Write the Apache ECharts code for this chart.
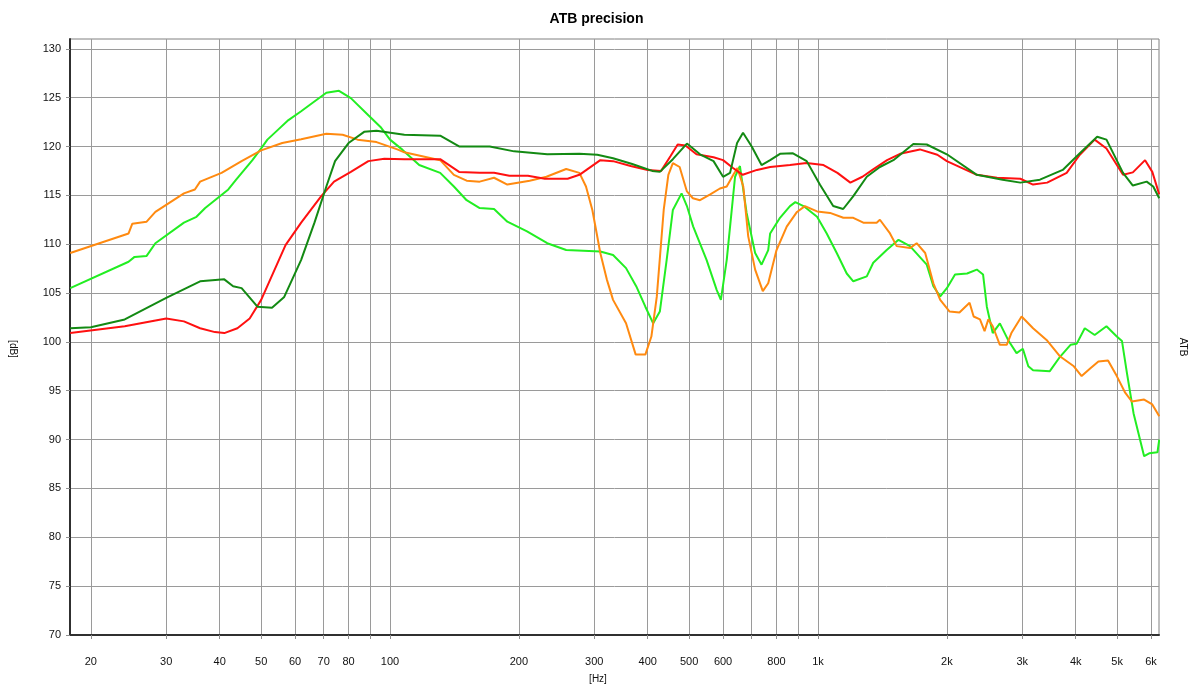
<!DOCTYPE html>
<html>
<head>
<meta charset="utf-8">
<script src="https://cdn.jsdelivr.net/npm/echarts@6/dist/echarts.min.js"></script>
<style>html,body{margin:0;padding:0;background:#fff}#c{width:1193px;height:686px}</style>
</head>
<body>
<div id="c"></div>
<script>
// Frequency grid lines (Hz) and labelled ticks
const gridHz = [20,30,40,50,60,70,80,90,100,200,300,400,500,600,700,800,900,1000,2000,3000,4000,5000,6000];
const labelHz = [20,30,40,50,60,70,80,100,200,300,400,500,600,800,1000,2000,3000,4000,5000,6000];
const labelText = ['20','30','40','50','60','70','80','100','200','300','400','500','600','800','1k','2k','3k','4k','5k','6k'];
const yTicks = [70,75,80,85,90,95,100,105,110,115,120,125,130];

// Red
const redHz = [17.9,24,30,33,36,39,41,44,47,50,57,62,69,74,81,89,97,108,131,145,162,175,190,210,230,260,277,310,332,365,400,430,452,470,490,520,570,600,633,667,720,773,860,940,1030,1110,1190,1270,1340,1450,1555,1730,1900,2000,2350,2620,2970,3180,3430,3810,4090,4430,4720,5160,5440,5810,6040,6270];
const redDb = [100.9,101.6,102.4,102.1,101.4,101.0,100.9,101.4,102.4,104.3,109.9,112.2,114.9,116.4,117.4,118.5,118.74,118.7,118.7,117.4,117.3,117.3,117.0,117.0,116.7,116.7,117.1,118.6,118.5,118.0,117.6,117.5,119.0,120.2,120.1,119.2,118.9,118.6,117.8,117.1,117.6,117.9,118.1,118.3,118.1,117.3,116.3,116.9,117.6,118.6,119.25,119.7,119.15,118.5,117.1,116.8,116.7,116.1,116.3,117.3,119.15,120.7,119.8,117.1,117.35,118.6,117.4,115.1];

// Dark green
const dgreenHz = [17.9,20,24,30,36,41,43,45,49,53,56.6,62,66.6,71,74.4,80,87,93,108,131,145,171,195,233,277,305,332,368,410,427,458,494,530,570,600,623,647,668,700,738,773,815,874,941,1010,1085,1145,1208,1300,1395,1500,1670,1795,2000,2350,2700,2970,3300,3730,4090,4490,4720,5160,5440,5860,6070,6270];
const dgreenDb = [101.4,101.5,102.3,104.5,106.2,106.4,105.7,105.5,103.6,103.5,104.6,108.4,112.2,115.9,118.5,120.35,121.5,121.6,121.2,121.1,120.0,120.0,119.5,119.2,119.25,119.15,118.8,118.2,117.5,117.4,118.7,120.3,119.2,118.5,116.9,117.3,120.35,121.4,120.0,118.1,118.6,119.25,119.3,118.5,116.1,113.9,113.6,114.9,116.9,117.9,118.6,120.25,120.2,119.2,117.1,116.6,116.3,116.6,117.6,119.3,121.0,120.7,117.3,116.0,116.4,115.9,114.7];

// Orange
const orangeHz = [17.9,24.5,25,27,28.3,33,35,36,40.4,45,50,56,62,71,77.5,84,93,104,108,131,141,151,162,175,188,212,232,258,277,287,297,310,321,332,356,375,395,408,420,436,447,458,475,494,510,530,560,590,612,634,648,669,687,713,743,765,800,845,893,932,995,1067,1146,1209,1276,1371,1395,1473,1527,1640,1700,1780,1860,1930,2030,2140,2260,2310,2390,2450,2500,2560,2660,2760,2830,2990,3180,3420,3680,3960,4130,4330,4520,4760,4990,5220,5410,5780,6040,6270];
const orangeDb = [109.1,111.1,112.1,112.3,113.3,115.2,115.6,116.4,117.3,118.5,119.6,120.35,120.75,121.3,121.2,120.7,120.45,119.7,119.4,118.6,117.1,116.5,116.4,116.8,116.1,116.5,116.9,117.7,117.3,115.9,113.5,109.1,106.4,104.3,101.9,98.7,98.7,100.55,104.6,113.5,117.1,118.3,117.9,115.4,114.7,114.5,115.1,115.7,115.9,117.1,117.8,115.9,110.8,107.4,105.2,106.0,109.4,111.8,113.3,113.9,113.35,113.2,112.7,112.7,112.2,112.2,112.5,111.1,109.8,109.6,110.1,109.1,106.0,104.3,103.1,103.0,104.0,102.6,102.3,101.1,102.3,101.6,99.7,99.7,100.9,102.6,101.4,100.2,98.5,97.5,96.5,97.3,98.0,98.1,96.5,94.8,93.9,94.1,93.6,92.4];

// Light green
const lgreenHz = [17.9,24.5,25.3,27,28.3,33,35.3,37,41.9,43.7,47.7,50,51.7,54.7,57.9,62,65.6,71,76,81,89,95,100,107,117,131,141,151,162,175,188,209,233,258,310,332,356,376,395,412,427,443,458,480,494,511,549,580,593,612,640,657,681,713,738,765,773,815,860,885,925,995,1048,1106,1167,1209,1300,1346,1447,1542,1640,1795,1860,1930,2000,2090,2230,2350,2430,2480,2560,2660,2780,2910,3010,3100,3180,3480,3680,3890,4020,4200,4430,4720,4990,5130,5270,5460,5780,5940,6210,6270];
const lgreenDb = [105.5,108.2,108.7,108.8,110.1,112.2,112.8,113.7,115.6,116.6,118.6,119.8,120.7,121.7,122.7,123.6,124.4,125.5,125.7,124.95,123.2,122.0,120.7,119.65,118.1,117.3,115.9,114.5,113.7,113.6,112.3,111.3,110.1,109.4,109.25,108.9,107.55,105.7,103.6,101.9,103.1,108.4,113.5,115.2,113.9,111.8,108.4,105.3,104.3,108.4,116.9,118.0,113.2,109.1,107.9,109.4,111.1,112.7,113.9,114.3,113.9,112.8,111.1,109.1,107.0,106.2,106.7,108.1,109.4,110.45,109.8,107.9,105.7,104.65,105.5,106.9,107.0,107.4,106.9,103.6,100.9,101.9,100.2,98.85,99.3,97.5,97.1,97.0,98.5,99.7,99.8,101.4,100.7,101.6,100.55,100.1,96.8,92.7,88.3,88.6,88.7,90.0];

const lg = v => Math.log10(v);
const pts = (hz, db) => hz.map((f, i) => [lg(f), db[i]]);

const chart = echarts.init(document.getElementById('c'), null, {renderer: 'canvas'});
const FONT = 'Liberation Sans, Arial, sans-serif';
function line(name, hz, db, color) {
  return {
    name, type: 'line', data: pts(hz, db), showSymbol: false, symbol: 'none',
    lineStyle: {color, width: 2}, itemStyle: {color}, animation: false, silent: true
  };
}
chart.setOption({
  animation: false,
  backgroundColor: '#ffffff',
  title: {
    text: 'ATB precision', left: 'center', top: 7,
    textStyle: {fontFamily: FONT, fontSize: 14, fontWeight: 'bold', color: '#000'}
  },
  grid: {left: 70, right: 34, top: 39, bottom: 51, show: true, borderColor: '#808080', borderWidth: 1},
  xAxis: {
    type: 'value', min: 1.2523, max: 3.7967,
    axisLine: {show: true, onZero: false, lineStyle: {color: '#303030', width: 2}},
    axisTick: {show: true, length: 4, customValues: gridHz.map(lg), lineStyle: {color: '#909090'}},
    splitLine: {show: true, lineStyle: {color: '#9a9a9a', width: 1}},
    axisLabel: {
      customValues: labelHz.map(lg), margin: 21,
      fontFamily: FONT, fontSize: 11, color: '#111',
      formatter: v => {
        let best = 0, d = 1e9;
        labelHz.forEach((f, i) => { const dd = Math.abs(lg(f) - v); if (dd < d) { d = dd; best = i; } });
        return labelText[best];
      }
    }
  },
  yAxis: {
    type: 'value', min: 70, max: 131, interval: 5,
    axisLine: {show: true, onZero: false, lineStyle: {color: '#303030', width: 2}},
    axisTick: {show: true, length: 4, customValues: yTicks, lineStyle: {color: '#909090'}},
    splitLine: {show: true, lineStyle: {color: '#9a9a9a', width: 1}},
    axisLabel: {customValues: yTicks, margin: 9, fontFamily: FONT, fontSize: 11, color: '#111'}
  },
  graphic: [
    {type: 'text', x: 13, y: 349, rotation: -Math.PI / 2,
      style: {text: '[dB]', fontFamily: FONT, fontSize: 10, fill: '#111', align: 'center', verticalAlign: 'middle'}},
    {type: 'text', x: 1183, y: 347, rotation: -Math.PI / 2,
      style: {text: 'ATB', fontFamily: FONT, fontSize: 10, fill: '#111', align: 'center', verticalAlign: 'middle'}},
    {type: 'text', x: 598, y: 679,
      style: {text: '[Hz]', fontFamily: FONT, fontSize: 10, fill: '#111', align: 'center', verticalAlign: 'middle'}}
  ],
  series: [
    line('lightgreen', lgreenHz, lgreenDb, '#22ee22'),
    line('orange', orangeHz, orangeDb, '#ff8a10'),
    line('red', redHz, redDb, '#ff1010'),
    line('darkgreen', dgreenHz, dgreenDb, '#138a13')
  ]
});
</script>
</body>
</html>
